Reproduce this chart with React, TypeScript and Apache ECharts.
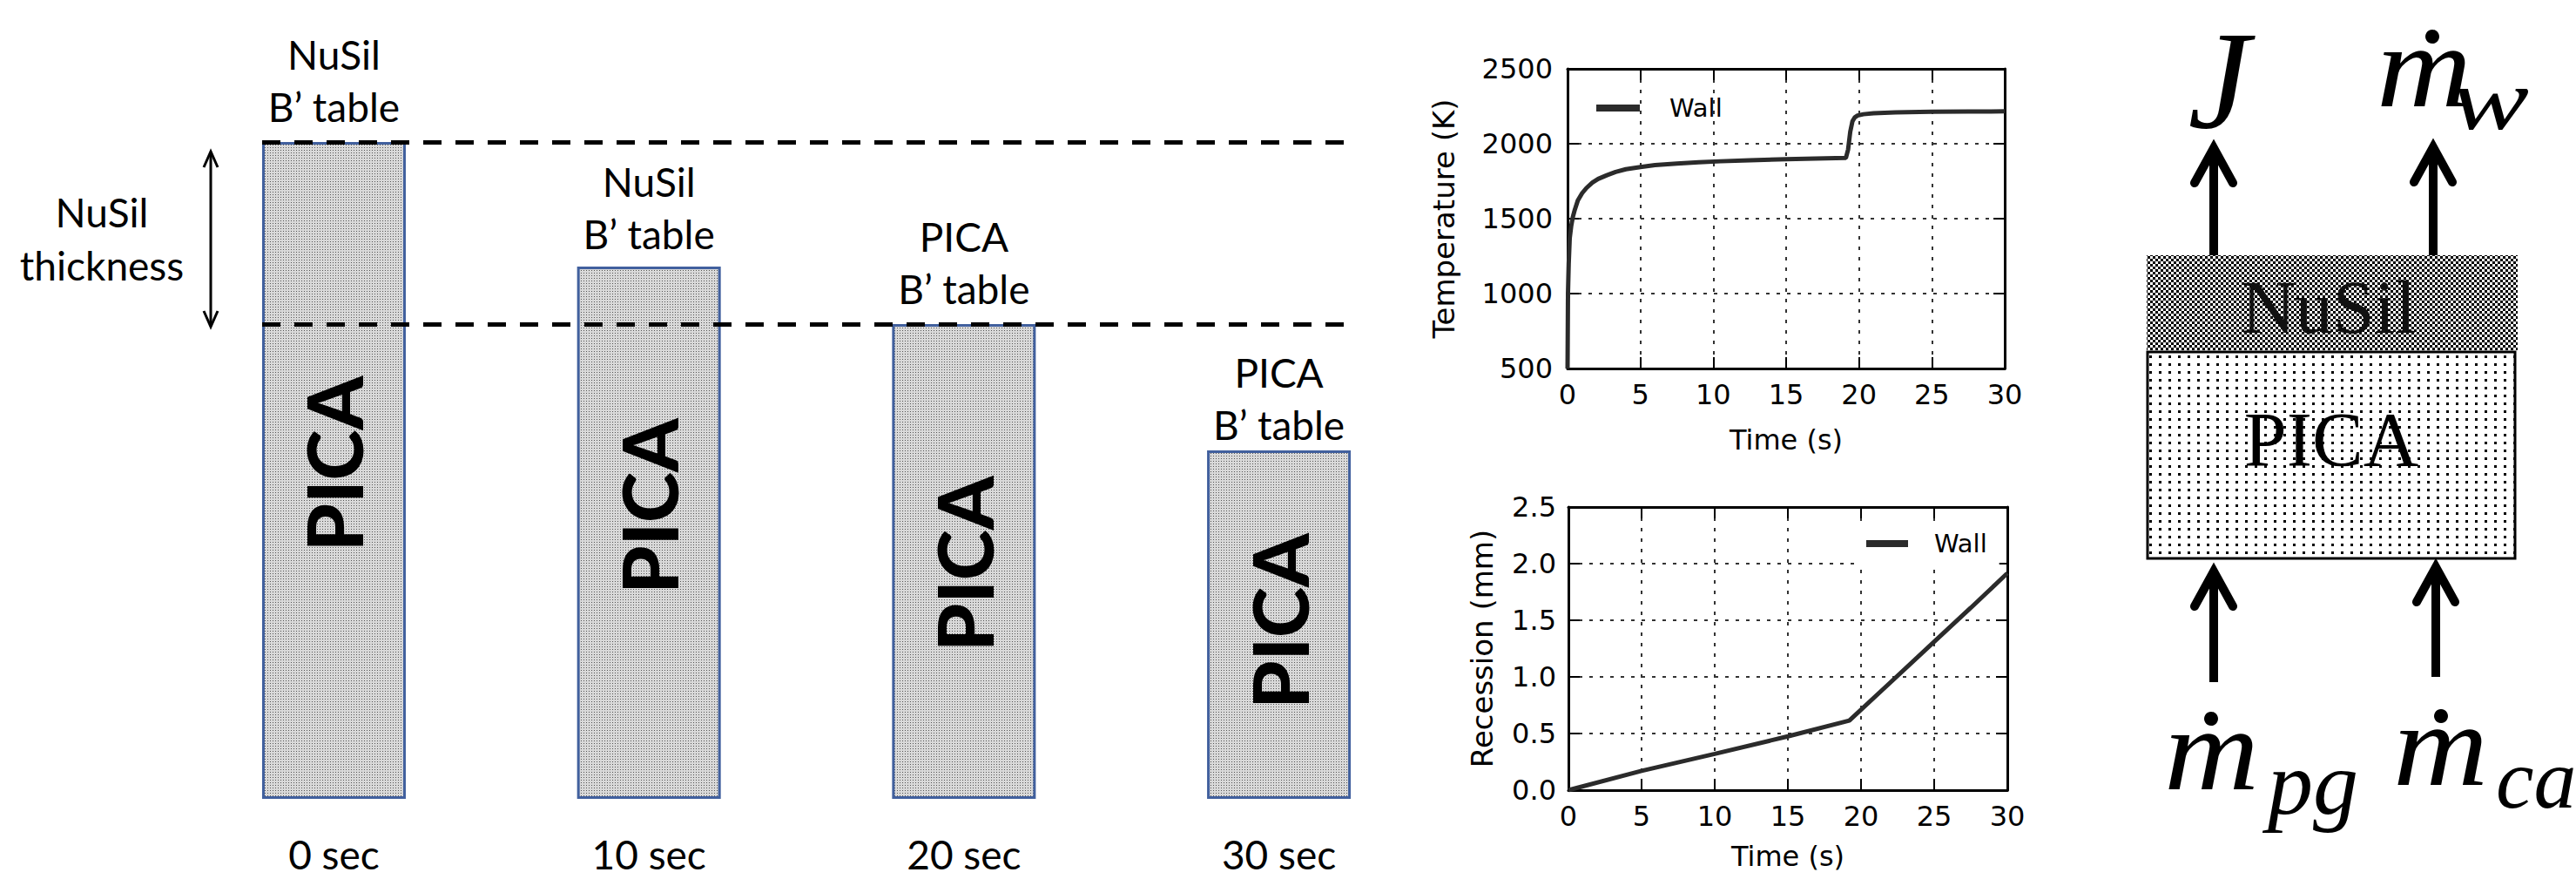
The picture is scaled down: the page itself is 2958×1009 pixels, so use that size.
import React, { useEffect, useRef } from 'react';
import * as echarts from 'echarts';

// ---------- Left diagram: total heat-shield thickness at each snapshot ----------
const snapshotTimes = [0, 10, 20, 30];
const totalThickness = [754, 611, 545, 400];
const bTableMaterial = ['NuSil', 'NuSil', 'PICA', 'PICA'];
const referenceLevels = [754, 545]; // initial surface, NuSil / PICA interface

// ---------- Wall temperature (K) ----------
const tempTime = [0, 0.03, 0.08, 0.15, 0.25, 0.36, 0.5, 0.7, 1.0, 1.3, 1.7, 2.1, 2.7, 3.3, 4.0, 5.0, 6.0, 7.5, 9.0, 10.5, 12.5, 15.0, 17.0, 19.1, 19.25, 19.4, 19.55, 19.7, 19.9, 20.3, 21.0, 22.5, 25.0, 27.5, 30.0];
const tempK = [500, 1000, 1200, 1370, 1450, 1510, 1560, 1620, 1670, 1705, 1740, 1765, 1790, 1812, 1830, 1845, 1857, 1868, 1876, 1883, 1890, 1897, 1901, 1905, 1960, 2080, 2150, 2175, 2188, 2197, 2203, 2209, 2213, 2215, 2216];

// ---------- Wall recession (mm) ----------
const recTime = [0, 5, 10, 15, 19.2, 22, 25, 27.5, 30];
const recMm = [0, 0.17, 0.32, 0.475, 0.615, 0.95, 1.31, 1.61, 1.915];

// ---------- styles ----------
const picaLabelY = ['49%', '45%', '50.5%', '49%'];
const topLabelDistance = [11, 8, 11, 0];

const svgUrl = (s: string) => 'data:image/svg+xml;charset=utf-8,' + encodeURIComponent(s);
const checkerPattern = {
  image: svgUrl('<svg xmlns="http://www.w3.org/2000/svg" width="6" height="6"><rect width="6" height="6" fill="#ffffff"/><rect width="3" height="3" fill="#000000"/><rect x="3" y="3" width="3" height="3" fill="#000000"/></svg>'),
  repeat: 'repeat',
  imageWidth: 6,
  imageHeight: 6,
};
const dotPattern = {
  image: svgUrl('<svg xmlns="http://www.w3.org/2000/svg" width="11" height="9"><rect width="11" height="9" fill="#ffffff"/><rect x="4" y="3" width="3" height="3" fill="#000000"/></svg>'),
  repeat: 'repeat',
  imageWidth: 11,
  imageHeight: 9,
};
const barPattern = {
  image: svgUrl('<svg xmlns="http://www.w3.org/2000/svg" width="3" height="3"><rect width="3" height="3" fill="#d9d9d9"/><rect x="1" y="1" width="1" height="1" fill="#555555"/></svg>'),
  repeat: 'repeat',
  imageWidth: 3,
  imageHeight: 3,
};

const MPL_FONT = "'DejaVu Sans', sans-serif";
const LABEL_FONT = "Lato, 'Open Sans', sans-serif";
const SERIF = "'Liberation Serif', 'DejaVu Serif', serif";

const dotted = { show: true, lineStyle: { color: '#333', width: 2, type: [4, 8] as any } };

function mplXAxis(gridIndex: number, name: string, nameGap: number, labelMargin: number) {
  return [
    {
      type: 'value', gridIndex, min: 0, max: 30, interval: 5, position: 'bottom',
      axisLine: { show: true, onZero: false, lineStyle: { color: '#000', width: 3 } },
      axisTick: { show: true, inside: true, length: 13, lineStyle: { color: '#000', width: 2 } },
      axisLabel: { show: true, color: '#000', fontFamily: MPL_FONT, fontSize: 32, margin: labelMargin },
      splitLine: dotted,
      name, nameLocation: 'middle', nameGap,
      nameTextStyle: { color: '#000', fontFamily: MPL_FONT, fontSize: 32 },
    },
    {
      type: 'value', gridIndex, min: 0, max: 30, interval: 5, position: 'top',
      axisLine: { show: true, onZero: false, lineStyle: { color: '#000', width: 3 } },
      axisTick: { show: true, inside: true, length: 13, lineStyle: { color: '#000', width: 2 } },
      axisLabel: { show: false },
      splitLine: { show: false },
    },
  ];
}

function mplYAxis(gridIndex: number, min: number, max: number, interval: number, name: string, nameGap: number, fmt: (v: number) => string, labelMargin: number) {
  return [
    {
      type: 'value', gridIndex, min, max, interval, position: 'left',
      axisLine: { show: true, onZero: false, lineStyle: { color: '#000', width: 3 } },
      axisTick: { show: true, inside: true, length: 13, lineStyle: { color: '#000', width: 2 } },
      axisLabel: { show: true, color: '#000', fontFamily: MPL_FONT, fontSize: 32, margin: labelMargin, formatter: fmt },
      splitLine: dotted,
      name, nameLocation: 'middle', nameGap, nameRotate: 90,
      nameTextStyle: { color: '#000', fontFamily: MPL_FONT, fontSize: 34 },
    },
    {
      type: 'value', gridIndex, min, max, interval, position: 'right',
      axisLine: { show: true, onZero: false, lineStyle: { color: '#000', width: 3 } },
      axisTick: { show: true, inside: true, length: 13, lineStyle: { color: '#000', width: 2 } },
      axisLabel: { show: false },
      splitLine: { show: false },
    },
  ];
}

function text(t: string, x: number, y: number, extra: any = {}) {
  return {
    type: 'text', x, y, silent: true,
    style: {
      text: t, fill: '#000', align: 'center', verticalAlign: 'middle',
      textAlign: 'center', textVerticalAlign: 'middle', ...extra,
    },
  };
}

function upArrow(x: number, tipY: number, tailY: number, w: number, headW: number, headL: number) {
  return [
    { type: 'line', silent: true, shape: { x1: x, y1: tailY, x2: x, y2: tipY + w / 2 }, style: { stroke: '#000', lineWidth: w } },
    {
      type: 'polyline', silent: true,
      shape: { points: [[x - headW, tipY + headL], [x, tipY], [x + headW, tipY + headL]] },
      style: { stroke: '#000', lineWidth: w, lineCap: 'round', lineJoin: 'miter', fill: 'none' },
    },
  ];
}

export default function App() {
  const ref = useRef<HTMLDivElement>(null);

  useEffect(() => {
    document.body.style.margin = '0';
    if (!ref.current) return;
    const chart = echarts.init(ref.current, null, { renderer: 'svg' });

    const option: any = {
      animation: false,
      backgroundColor: '#fff',
      grid: [
        { left: 301, top: 163, width: 1258, height: 754, outerBoundsMode: 'none' },
        { left: 1800, top: 79, width: 502, height: 344, outerBoundsMode: 'none' },
        { left: 1801, top: 582, width: 504, height: 325, outerBoundsMode: 'none' },
      ],
      xAxis: [
        {
          type: 'value', gridIndex: 0, min: -2.28, max: 32.5,
          axisLine: { show: false }, axisTick: { show: false }, splitLine: { show: false },
          axisLabel: {
            show: true, customValues: snapshotTimes, formatter: (v: number) => `${v} sec`,
            color: '#000', fontFamily: LABEL_FONT, fontSize: 46, margin: 40,
          },
        },
        ...mplXAxis(1, 'Time (s)', 66, 14),
        ...mplXAxis(2, 'Time (s)', 60, 14),
      ],
      yAxis: [
        { type: 'value', gridIndex: 0, min: 0, max: totalThickness[0], show: false },
        ...mplYAxis(1, 500, 2500, 500, 'Temperature (K)', 125, (v: number) => String(v), 17),
        ...mplYAxis(2, 0, 2.5, 0.5, 'Recession (mm)', 82, (v: number) => v.toFixed(1), 14),
      ],
      legend: [
        {
          data: ['Wall'], left: 1833, top: 107, padding: 0, icon: 'rect', itemWidth: 50, itemHeight: 8,
          selectedMode: false,
          textStyle: { color: '#000', fontFamily: MPL_FONT, fontSize: 29, lineHeight: 34, padding: [0, 0, 0, 29] },
        },
        {
          data: ['Wall'], left: 2130, top: 599, padding: [8, 14, 8, 13], backgroundColor: '#fff',
          icon: 'rect', itemWidth: 48, itemHeight: 8, selectedMode: false,
          textStyle: { color: '#000', fontFamily: MPL_FONT, fontSize: 29, lineHeight: 34, padding: [0, 0, 0, 25] },
        },
      ],
      series: [
        {
          type: 'bar', xAxisIndex: 0, yAxisIndex: 0, barWidth: 165, barGap: '-100%', z: 2,
          data: snapshotTimes.map((t, i) => ({
            value: [t, totalThickness[i]],
            label: { formatter: `${bTableMaterial[i]}\nB’ table`, distance: topLabelDistance[i] },
          })),
          itemStyle: { color: barPattern, borderColor: '#41609e', borderWidth: 3 },
          label: {
            show: true, position: 'top', color: '#000', fontFamily: LABEL_FONT, fontSize: 46,
            lineHeight: 60, align: 'center',
          },
          markLine: {
            silent: true, symbol: ['none', 'none'], label: { show: false },
            lineStyle: { color: '#000', width: 5, type: [21, 16] },
            data: referenceLevels.map((v) => ({ yAxis: v })),
            z: 5,
          },
        },
        {
          type: 'bar', xAxisIndex: 0, yAxisIndex: 0, barWidth: 165, barGap: '-100%', z: 3, silent: true,
          data: snapshotTimes.map((t, i) => ({
            value: [t, totalThickness[i]],
            label: { position: ['50%', picaLabelY[i]] },
          })),
          itemStyle: { color: 'rgba(0,0,0,0)' },
          label: {
            show: true, formatter: 'PICA', rotate: 90, align: 'center', verticalAlign: 'middle',
            color: '#000', fontFamily: LABEL_FONT, fontWeight: 900, fontSize: 88,
          },
        },
        {
          type: 'line', name: 'Wall', xAxisIndex: 1, yAxisIndex: 1, showSymbol: false, z: 5,
          data: tempTime.map((t, i) => [t, tempK[i]]),
          lineStyle: { color: '#2b2b2b', width: 5 }, itemStyle: { color: '#2b2b2b' },
        },
        {
          type: 'line', name: 'Wall', xAxisIndex: 3, yAxisIndex: 3, showSymbol: false, z: 5,
          data: recTime.map((t, i) => [t, recMm[i]]),
          lineStyle: { color: '#2b2b2b', width: 5 }, itemStyle: { color: '#2b2b2b' },
        },
      ],
    };

    chart.setOption(option);

    const yTop = chart.convertToPixel({ yAxisIndex: 0 } as any, referenceLevels[0]) as number;
    const yBot = chart.convertToPixel({ yAxisIndex: 0 } as any, referenceLevels[1]) as number;
    const ax = 242;
    const aTop = yTop + 11;
    const aBot = yBot + 3;

    const mathItalic = { fontFamily: SERIF, fontStyle: 'italic', align: 'left', textAlign: 'left', verticalAlign: 'middle', textVerticalAlign: 'middle', fill: '#000' };

    const graphic: any[] = [
      // NuSil thickness annotation
      text('NuSil', 117, 243, { fontFamily: LABEL_FONT, fontSize: 46 }),
      text('thickness', 117, 304, { fontFamily: LABEL_FONT, fontSize: 46 }),
      { type: 'line', silent: true, shape: { x1: ax, y1: aTop + 2, x2: ax, y2: aBot - 2 }, style: { stroke: '#000', lineWidth: 3 } },
      { type: 'polyline', silent: true, shape: { points: [[ax - 8, aTop + 18], [ax, aTop], [ax + 8, aTop + 18]] }, style: { stroke: '#000', lineWidth: 3, fill: 'none' } },
      { type: 'polyline', silent: true, shape: { points: [[ax - 8, aBot - 18], [ax, aBot], [ax + 8, aBot - 18]] }, style: { stroke: '#000', lineWidth: 3, fill: 'none' } },

      // Right schematic
      { type: 'rect', silent: true, shape: { x: 2465, y: 293, width: 426, height: 109 }, style: { fill: checkerPattern } },
      { type: 'rect', silent: true, shape: { x: 2466, y: 404, width: 422, height: 237 }, style: { fill: dotPattern, stroke: '#000', lineWidth: 3 } },
      text('NuSil', 2674, 353, { fontFamily: SERIF, fontSize: 86, fill: '#111' }),
      text('PICA', 2677, 504, { fontFamily: SERIF, fontSize: 88 }),
      ...upArrow(2542, 170, 293, 10, 22, 40),
      ...upArrow(2794, 169, 293, 10, 22, 40),
      ...upArrow(2542, 656, 783, 10, 22, 40),
      ...upArrow(2797, 651, 777, 10, 22, 40),

      text('J', 2548, 92, { fontFamily: SERIF, fontStyle: 'italic', fontSize: 160 }),
      { type: 'text', x: 2729, y: 76, scaleX: 1.12, silent: true, style: { text: 'm', fontSize: 135, ...mathItalic } },
      { type: 'circle', silent: true, shape: { cx: 2793, cy: 42, r: 8 }, style: { fill: '#000' } },
      { type: 'text', x: 2814, y: 114, scaleX: 1.35, silent: true, style: { text: 'w', fontSize: 100, ...mathItalic } },

      { type: 'text', x: 2485, y: 860, scaleX: 1.12, silent: true, style: { text: 'm', fontSize: 135, ...mathItalic } },
      { type: 'circle', silent: true, shape: { cx: 2539, cy: 825, r: 8 }, style: { fill: '#000' } },
      { type: 'text', x: 2604, y: 898, silent: true, style: { text: 'pg', fontSize: 104, ...mathItalic } },

      { type: 'text', x: 2748, y: 855, scaleX: 1.12, silent: true, style: { text: 'm', fontSize: 135, ...mathItalic } },
      { type: 'circle', silent: true, shape: { cx: 2803, cy: 822, r: 8 }, style: { fill: '#000' } },
      { type: 'text', x: 2866, y: 894, silent: true, style: { text: 'ca', fontSize: 98, ...mathItalic } },
    ];

    chart.setOption({ graphic });

    return () => chart.dispose();
  }, []);

  return <div ref={ref} style={{ position: 'absolute', left: 0, top: 0, width: 2958, height: 1009 }} />;
}
